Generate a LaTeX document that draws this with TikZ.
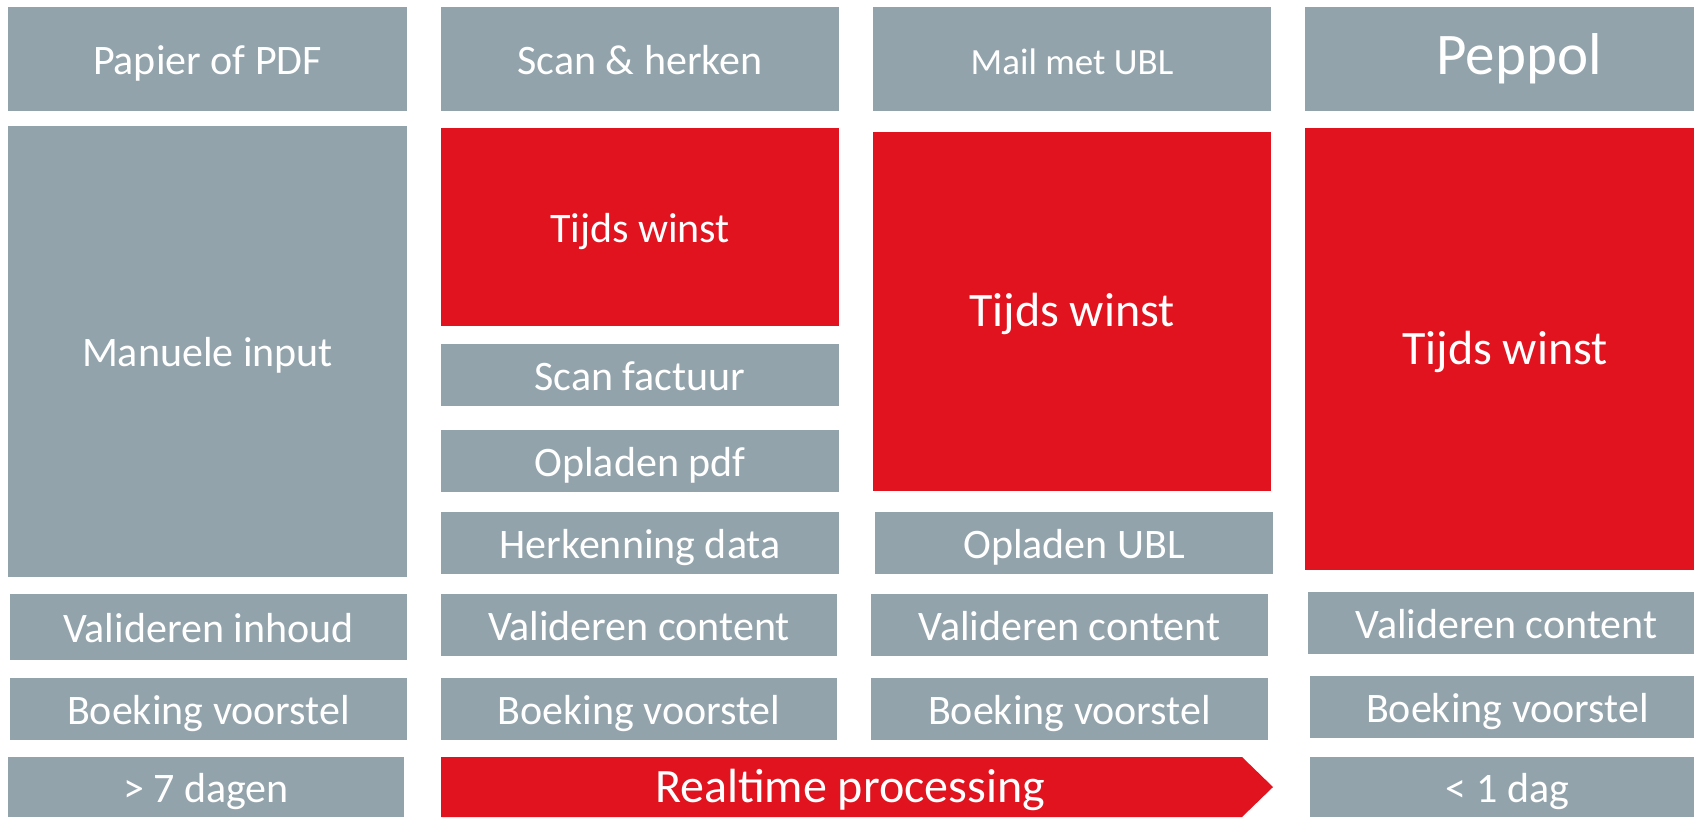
\documentclass[tikz,border=0pt]{standalone}
\usepackage{fontspec}
\setmainfont{Carlito}
\usepackage{tikz}
\definecolor{grijsblauw}{RGB}{147,163,171}
\definecolor{signaalrood}{RGB}{225,19,30}

\begin{document}
\begin{tikzpicture}[x=1pt, y=-1pt, font=\fontsize{42}{50}\selectfont,
  blok/.style={text=white, inner sep=0pt, outer sep=0pt, text height=40pt, text depth=10pt},
  grijs/.style={blok, fill=grijsblauw},
  rood/.style={blok, fill=signaalrood},
  groot/.style={font=\fontsize{48}{56}\selectfont}]
	\useasboundingbox (0,0) rectangle (1694,817);
	\node[grijs, minimum width=399pt, minimum height=104pt] (papier) at (207.5,59) {Papier of PDF};
	\node[grijs, minimum width=399pt, minimum height=451pt] (manueel) at (207.5,351.5) {Manuele input};
	\node[grijs, minimum width=397pt, minimum height=66pt] (inhoud) at (208.5,627) {Valideren inhoud};
	\node[grijs, minimum width=397pt, minimum height=62pt] (boeking1) at (208.5,709) {Boeking voorstel};
	\node[grijs, minimum width=396pt, minimum height=60pt] (zevendagen) at (206,787) {> 7 dagen};

	\node[grijs, minimum width=398pt, minimum height=104pt] (scan) at (640,59) {Scan \& herken};
	\node[rood, minimum width=398pt, minimum height=198pt] (winst2) at (640,227) {Tijds winst};
	\node[grijs, minimum width=398pt, minimum height=62pt] (factuur) at (640,375) {Scan factuur};
	\node[grijs, minimum width=398pt, minimum height=62pt] (pdf) at (640,461) {Opladen pdf};
	\node[grijs, minimum width=398pt, minimum height=62pt] (herkenning) at (640,543) {Herkenning data};
	\node[grijs, minimum width=396pt, minimum height=62pt] (content2) at (639,625) {Valideren content};
	\node[grijs, minimum width=396pt, minimum height=62pt] (boeking2) at (639,709) {Boeking voorstel};

	\node[grijs, minimum width=398pt, minimum height=104pt, font=\fontsize{37}{44}\selectfont] (mail) at (1072,59) {Mail met UBL};
	\node[rood, groot, minimum width=398pt, minimum height=359pt] (winst3) at (1072,311.5) {Tijds winst};
	\node[grijs, minimum width=398pt, minimum height=62pt] (ubl) at (1074,543) {Opladen UBL};
	\node[grijs, minimum width=397pt, minimum height=62pt] (content3) at (1069.5,625) {Valideren content};
	\node[grijs, minimum width=397pt, minimum height=62pt] (boeking3) at (1069.5,709) {Boeking voorstel};

	\node[grijs, minimum width=428pt, minimum height=104pt, font=\fontsize{59}{67}\selectfont] (peppol) at (1519,59) {Peppol};
	\node[rood, groot, minimum width=400pt, minimum height=442pt] (winst4) at (1505,349) {Tijds winst};
	\node[grijs, minimum width=397pt, minimum height=62pt] (content4) at (1506.5,623) {Valideren content};
	\node[grijs, minimum width=395pt, minimum height=62pt] (boeking4) at (1507.5,707) {Boeking voorstel};
	\node[grijs, minimum width=395pt, minimum height=60pt] (eendag) at (1507.5,787) {< 1 dag};

	\fill[signaalrood] (441,757) -- (1242,757) -- (1273,787) -- (1242,817) -- (441,817) -- cycle;
	\node[blok, groot] (realtime) at (850,787) {Realtime processing};
\end{tikzpicture}
\end{document}
